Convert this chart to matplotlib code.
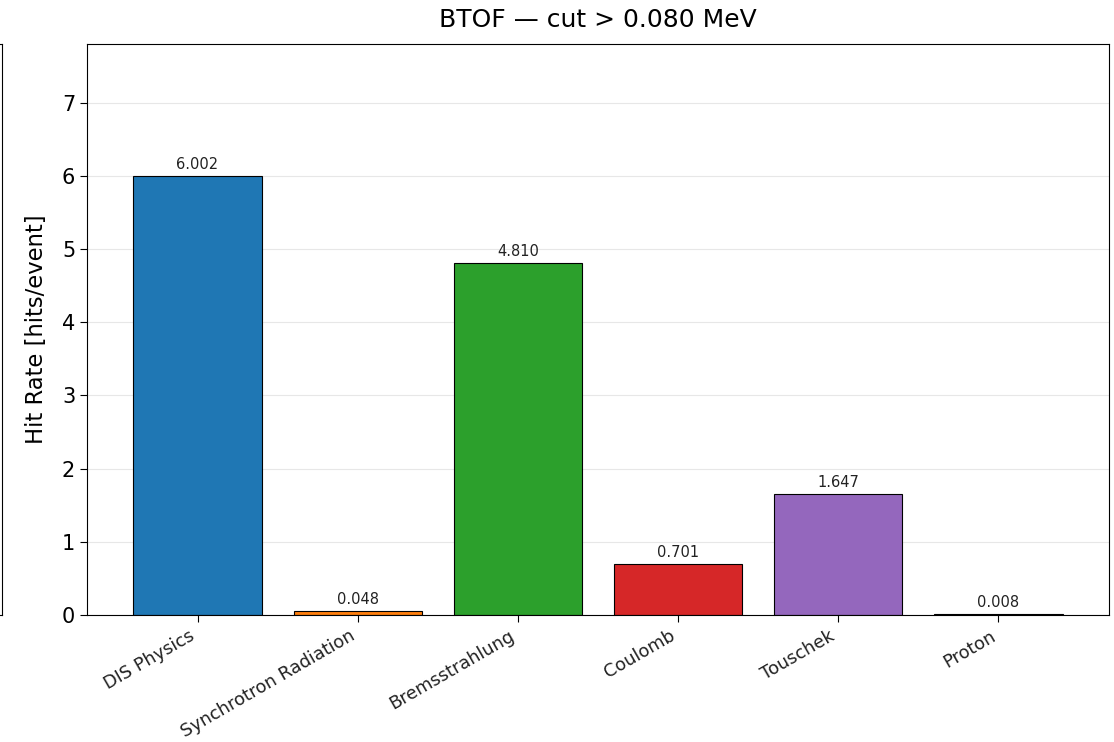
import matplotlib
matplotlib.use("Agg")
from matplotlib import pyplot as plt

# BTOF hit rates per background source
sources = ['DIS Physics', 'Synchrotron Radiation', 'Bremsstrahlung', 'Coulomb', 'Touschek', 'Proton']
rates = [6.002, 0.048, 4.810, 0.701, 1.647, 0.008]
colors = ['#1f77b4', '#ff7f0e', '#2ca02c', '#d62728', '#9467bd', '#8c564b']

fig = plt.figure(figsize=(11.14, 7.42), dpi=100)

# edge of the neighbouring panel, cut off at the left border
ax0 = fig.add_axes([-0.5, 1 - 615/742, 0.5 + 2/1114, (615 - 44)/742])
ax0.set_xticks([])
ax0.set_yticks([])
ax0.spines['left'].set_visible(False)

ax = fig.add_axes([87/1114, 1 - 615/742, (1109 - 87)/1114, (615 - 44)/742])
x = range(len(sources))
bars = ax.bar(x, rates, color=colors, edgecolor='black', linewidth=0.8, width=0.8)
ax.bar_label(bars, fmt='%.3f', padding=3, fontsize=10.5, color='#222222')
ax.set_xticks(list(x))
ax.set_xticklabels(sources, rotation=30, ha='right', fontsize=12.8, color='#222222')
ax.set_ylim(0, max(rates) * 1.3)
ax.set_ylabel('Hit Rate [hits/event]', fontsize=16.3, labelpad=10)
ax.set_title('BTOF — cut > 0.080 MeV', fontsize=18, pad=12)
ax.tick_params(axis='y', labelsize=15)
ax.tick_params(length=5)
ax.grid(axis='y', alpha=0.3)
ax.set_axisbelow(True)

fig.savefig('out.png', dpi=100)
